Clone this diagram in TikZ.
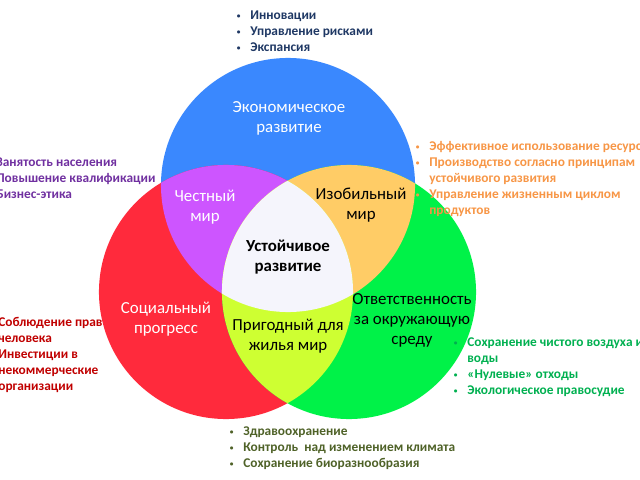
\documentclass[tikz,border=0pt]{standalone}
\usepackage{fontspec}
\setmainfont{Carlito}
\usepackage{tikz}
\definecolor{econblue}{RGB}{58,136,254}
\definecolor{socialred}{RGB}{255,42,60}
\definecolor{ecogreen}{RGB}{0,242,72}
\definecolor{fairpurple}{RGB}{205,85,255}
\definecolor{richorange}{RGB}{255,204,102}
\definecolor{livelime}{RGB}{206,255,50}
\definecolor{corewhite}{RGB}{245,245,252}
\definecolor{listnavy}{RGB}{31,56,100}
\definecolor{listpurple}{RGB}{112,48,160}
\definecolor{listorange}{RGB}{247,150,70}
\definecolor{listred}{RGB}{192,0,0}
\definecolor{listgreen}{RGB}{0,176,80}
\definecolor{listolive}{RGB}{79,98,40}

\newcommand{\econpath}{(288,185) circle [radius=3.175cm]}
\newcommand{\socialpath}{(226,292) circle [radius=3.175cm]}
\newcommand{\ecopath}{(349,292) circle [radius=3.175cm]}
\newcommand{\bul}{\makebox[4.7pt]{\raisebox{0.2ex}{\scalebox{0.55}{\textbullet}}}}

\begin{document}
\begin{tikzpicture}[
  x=0.025cm, y=-0.025cm,
  label/.style={align=center, font=\fontsize{12}{14.2}\selectfont, inner sep=0pt},
  bullets/.style={anchor=north west, inner sep=0pt, font=\fontsize{9.5}{11.4}\selectfont\bfseries}
]
\useasboundingbox (0,0) rectangle (640,480);

% lists behind the circles
\node[bullets, text=listpurple] (fairlist) at (-19,155) {%
  \begin{tabular}{@{}l@{\hspace{6pt}}l@{}}
  \bul & Занятость населения\\
  \bul & Повышение квалификации\\
  \bul & Бизнес-этика
  \end{tabular}};
\node[bullets, text=listred] (sociallist) at (-17,315) {%
  \begin{tabular}{@{}l@{\hspace{6pt}}l@{}}
  \bul & Соблюдение прав\\
       & человека\\
  \bul & Инвестиции в\\
       & некоммерческие\\
       & организации
  \end{tabular}};

% circles
\fill[econblue] \econpath;
\fill[socialred] \socialpath;
\fill[ecogreen] \ecopath;
\begin{scope}
  \clip \econpath;
  \fill[fairpurple] \socialpath;
  \fill[richorange] \ecopath;
\end{scope}
\begin{scope}
  \clip \socialpath;
  \fill[livelime] \ecopath;
\end{scope}
\begin{scope}
  \clip \econpath;
  \clip \socialpath;
  \fill[corewhite] \ecopath;
\end{scope}

% region labels
\node[label, text=white] (econ) at (289,118) {Экономическое\\развитие};
\node[label, text=white] (fair) at (205,207) {Честный\\мир};
\node[label] (rich) at (361,205) {Изобильный\\мир};
\node[label, font=\fontsize{12}{14.2}\selectfont\bfseries] (core) at (288,257) {Устойчивое\\развитие};
\node[label, text=white] (social) at (166,319) {Социальный\\прогресс};
\node[label] (live) at (288,336) {Пригодный для\\жилья мир};
\node[label] (eco) at (412,320) {Ответственность\\за окружающую\\среду};

% lists over the circles
\node[bullets, text=listnavy] (econlist) at (235,8) {%
  \begin{tabular}{@{}l@{\hspace{6pt}}l@{}}
  \bul & Инновации\\
  \bul & Управление рисками\\
  \bul & Экспансия
  \end{tabular}};
\node[bullets, text=listorange] (richlist) at (414,139) {%
  \begin{tabular}{@{}l@{\hspace{6pt}}l@{}}
  \bul & Эффективное использование ресурсов\\
  \bul & Производство согласно принципам\\
       & устойчивого развития\\
  \bul & Управление жизненным циклом\\
       & продуктов
  \end{tabular}};
\node[bullets, text=listgreen] (ecolist) at (452,335) {%
  \begin{tabular}{@{}l@{\hspace{6pt}}l@{}}
  \bul & Сохранение чистого воздуха и\\
       & воды\\
  \bul & «Нулевые» отходы\\
  \bul & Экологическое правосудие
  \end{tabular}};
\node[bullets, text=listolive] (livelist) at (228,424) {%
  \begin{tabular}{@{}l@{\hspace{6pt}}l@{}}
  \bul & Здравоохранение\\
  \bul & Контроль~ над изменением климата\\
  \bul & Сохранение биоразнообразия
  \end{tabular}};
\end{tikzpicture}
\end{document}
